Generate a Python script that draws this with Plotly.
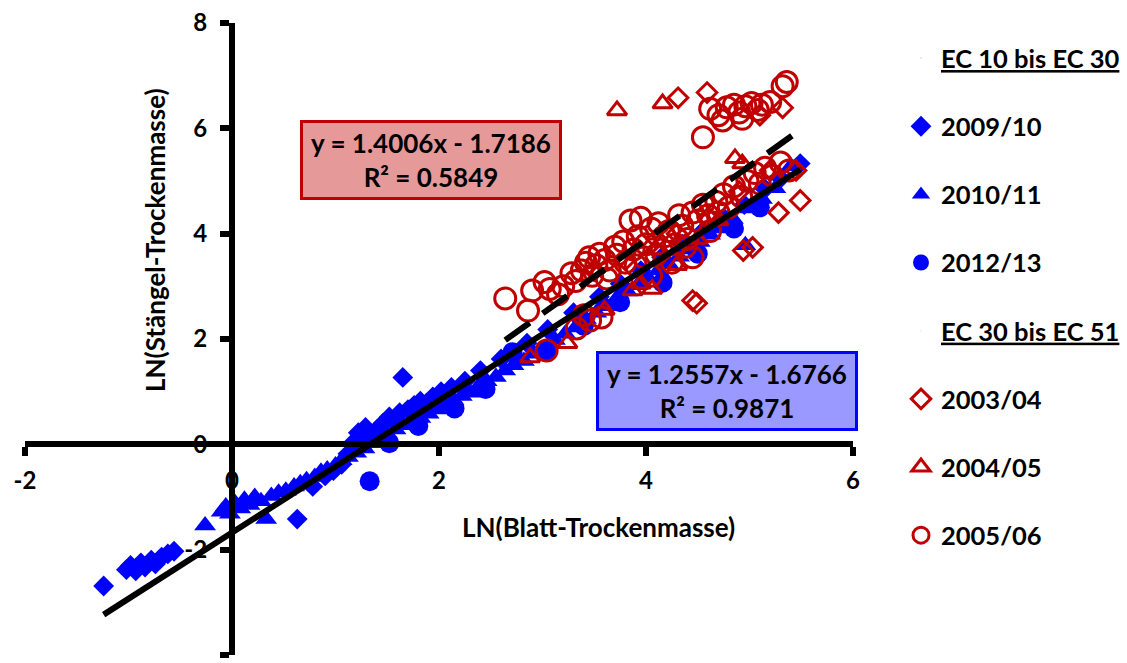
import plotly.graph_objects as go

# LN(leaf dry mass) vs LN(stem dry mass), growth stages EC 10-30 (blue) and EC 30-51 (red)

# EC 10 bis EC 30
x_2009 = [-1.24, -1.02, -0.98, -0.93, -0.88, -0.84, -0.78, -0.74, -0.68, -0.62, -0.56, 0.63,
          0.78, 0.90, 0.98, 1.06, 1.12, 1.18, 1.22, 1.29, 1.34, 1.40, 1.46, 1.52, 1.57, 1.62,
          1.65, 1.70, 1.76, 1.82, 1.88, 1.94, 2.02, 2.12, 2.25, 2.40, 2.60, 2.85, 3.05, 3.30,
          3.55, 3.75, 3.95, 4.15, 4.35, 4.55, 4.75, 4.95, 5.15, 5.30, 5.49]
y_2009 = [-2.69, -2.38, -2.30, -2.40, -2.25, -2.33, -2.20, -2.27, -2.14, -2.08, -2.03, -1.42,
          -0.80, -0.60, -0.50, -0.38, -0.18, 0.05, 0.22, 0.32, 0.10, 0.28, 0.40, 0.52, 0.45, 0.60,
          1.27, 0.66, 0.74, 0.82, 0.78, 0.90, 1.00, 1.08, 1.20, 1.40, 1.62, 1.92, 2.18, 2.50,
          2.80, 3.05, 3.30, 3.55, 3.80, 4.05, 4.30, 4.55, 4.85, 5.05, 5.33]

x_2010 = [-0.26, -0.10, -0.06, -0.02, 0.03, 0.08, 0.12, 0.17, 0.22, 0.28, 0.33, 0.38, 0.45,
          0.52, 0.60, 0.66, 0.72, 0.80, 0.86, 0.92, 1.00, 1.06, 1.12, 1.20, 1.28, 1.36, 1.44,
          1.50, 1.58, 1.66, 1.74, 1.82, 1.90, 1.98, 2.06, 2.14, 2.22, 2.30, 2.38, 2.46, 2.55,
          2.64, 2.72, 2.82, 2.92, 3.02, 3.12, 3.22, 3.32, 3.42, 3.52, 3.62, 3.72, 3.82, 3.92,
          4.02, 4.12, 4.22, 4.32, 4.42, 4.52, 4.62, 4.72, 4.84, 4.96, 5.00, 5.12, 5.25, 5.40]
y_2010 = [-1.54, -1.28, -1.18, -1.32, -1.12, -1.22, -1.05, -1.15, -1.00, -1.08, -1.42, -0.98,
          -0.92, -0.88, -0.80, -0.74, -0.68, -0.62, -0.52, -0.48, -0.40, -0.30, -0.24, -0.16,
          -0.08, 0.02, 0.10, 0.20, 0.28, 0.36, 0.42, 0.50, 0.58, 0.66, 0.74, 0.84, 0.92, 0.98,
          1.10, 1.20, 1.28, 1.40, 1.50, 1.58, 1.72, 1.82, 1.98, 2.10, 2.22, 2.38, 2.50, 2.62,
          2.78, 2.90, 3.02, 3.16, 3.30, 3.42, 3.56, 3.70, 3.84, 3.98, 4.10, 4.28, 3.78, 4.48,
          4.66, 4.86, 5.28]

x_2012 = [1.33, 1.52, 1.80, 2.15, 2.45, 2.71, 3.05, 3.40, 3.75, 4.16, 4.50, 4.85, 5.10]
y_2012 = [-0.70, 0.02, 0.35, 0.68, 1.05, 1.75, 1.78, 2.25, 2.70, 3.07, 3.62, 4.10, 4.50]

# EC 30 bis EC 51
x_2003 = [4.31, 4.59, 5.32, 5.10, 4.45, 4.49, 4.94, 5.03, 5.28, 5.49, 3.50, 3.80, 4.10, 4.30,
          4.60, 4.90, 5.20, 5.45]
y_2003 = [6.58, 6.68, 6.39, 6.25, 2.73, 2.68, 3.68, 3.74, 4.40, 4.63, 3.30, 3.50, 3.90, 4.00,
          4.30, 4.80, 5.20, 5.20]

x_2004 = [3.72, 4.16, 4.86, 4.93, 2.88, 3.24, 3.87, 4.06, 3.95, 4.30, 4.50, 4.70, 3.60, 4.10]
y_2004 = [6.34, 6.47, 5.43, 5.33, 1.65, 1.92, 2.92, 2.95, 3.05, 3.40, 3.90, 4.25, 2.55, 3.70]

x_2005 = [2.64, 2.86, 2.90, 3.02, 3.07, 3.15, 3.20, 3.28, 3.32, 3.38, 3.42, 3.45, 3.48, 3.52,
          3.55, 3.60, 3.65, 3.70, 3.72, 3.78, 3.80, 3.85, 3.88, 3.92, 3.95, 4.00, 4.05, 4.10,
          4.12, 4.18, 4.22, 4.28, 4.32, 4.35, 4.40, 4.45, 4.50, 4.55, 4.60, 4.68, 4.75, 4.80,
          4.85, 4.92, 4.98, 5.05, 5.10, 5.15, 5.22, 5.30, 5.38,
          3.04, 3.33, 3.46, 3.57, 3.40, 4.25, 4.45, 4.05,
          3.62, 3.90, 4.15, 4.38, 4.62, 3.98, 4.70,
          4.55, 4.62, 4.70, 4.74, 4.78, 4.85, 4.90, 4.96, 5.02, 5.08, 5.12, 5.20, 4.93, 5.32, 5.36]
y_2005 = [2.77, 2.54, 2.92, 3.08, 2.95, 2.85, 3.00, 3.25, 3.10, 3.30, 3.45, 3.55, 3.20, 3.40,
          3.62, 3.50, 3.30, 3.75, 3.60, 3.85, 3.45, 4.25, 3.70, 3.95, 4.30, 3.80, 4.10, 3.60,
          4.20, 3.95, 4.05, 3.80, 4.35, 4.15, 3.90, 4.40, 4.25, 4.55, 4.35, 4.60, 4.75, 4.50,
          4.90, 4.70, 5.00, 5.15, 4.95, 5.25, 5.10, 5.35, 5.20,
          1.78, 2.20, 2.35, 2.41, 2.45, 3.45, 3.55, 3.20,
          3.15, 3.40, 3.70, 3.75, 4.05, 3.55, 4.40,
          5.83, 6.37, 6.25, 6.15, 6.40, 6.45, 6.30, 6.42, 6.48, 6.35, 6.45, 6.50, 6.18, 6.80, 6.88]

# Trendline coefficients as printed in the boxes
fit_ec10 = (1.2557, -1.6766, 0.9871)
fit_ec30 = (1.4006, -1.7186, 0.5849)

x_ticks = [-2, 0, 2, 4, 6]
y_ticks = [-4, -2, 0, 2, 4, 6, 8]

BLUE = "#0000FF"
RED = "#C00000"
FONT = "Lato"


def bold(s):
    return f"<b>{s}</b>"


fig = go.Figure()


def header(name, group):
    fig.add_trace(go.Scatter(x=[None], y=[None], mode="markers", name=name,
                             legendgroup=group, marker=dict(opacity=0, size=1),
                             hoverinfo="skip"))


header(bold("<u>EC 10 bis EC 30</u>"), "h1")
fig.add_trace(go.Scatter(x=x_2009, y=y_2009, mode="markers", name=bold("2009/10"),
                         legendgroup="a",
                         marker=dict(symbol="diamond", color=BLUE, size=16)))
fig.add_trace(go.Scatter(x=x_2010, y=y_2010, mode="markers", name=bold("2010/11"),
                         legendgroup="b",
                         marker=dict(symbol="triangle-up", color=BLUE, size=19)))
fig.add_trace(go.Scatter(x=x_2012, y=y_2012, mode="markers", name=bold("2012/13"),
                         legendgroup="c",
                         marker=dict(symbol="circle", color=BLUE, size=20)))
header(bold("<u>EC 30 bis EC 51</u>"), "h2")
fig.add_trace(go.Scatter(x=x_2003, y=y_2003, mode="markers", name=bold("2003/04"),
                         legendgroup="d",
                         marker=dict(symbol="diamond-open", color=RED, size=15,
                                     line=dict(width=3, color=RED))))
fig.add_trace(go.Scatter(x=x_2004, y=y_2004, mode="markers", name=bold("2004/05"),
                         legendgroup="e",
                         marker=dict(symbol="triangle-up-open", color=RED, size=17,
                                     line=dict(width=3, color=RED))))
fig.add_trace(go.Scatter(x=x_2005, y=y_2005, mode="markers", name=bold("2005/06"),
                         legendgroup="f",
                         marker=dict(symbol="circle-open", color=RED, size=21,
                                     line=dict(width=3, color=RED))))

# Linear trendlines over each group's x range
blue_x = x_2009 + x_2010 + x_2012
red_x = x_2003 + x_2004 + x_2005
bx = [min(blue_x), max(blue_x)]
rx = [min(red_x), max(red_x)]
fig.add_trace(go.Scatter(x=bx, y=[fit_ec10[0] * v + fit_ec10[1] for v in bx], mode="lines",
                         line=dict(color="black", width=6), showlegend=False, hoverinfo="skip"))
fig.add_trace(go.Scatter(x=rx, y=[fit_ec30[0] * v + fit_ec30[1] for v in rx], mode="lines",
                         line=dict(color="black", width=6, dash="30px,16px"),
                         showlegend=False, hoverinfo="skip"))

axis_common = dict(showgrid=False, zeroline=False, showline=True, linecolor="black",
                   linewidth=6, ticks="outside", ticklen=9, tickwidth=6, tickcolor="black",
                   tickfont=dict(family=FONT, size=24, color="black"),
                   anchor="free")

fig.update_xaxes(range=[-2, 6], tickvals=x_ticks, ticktext=[bold(v) for v in x_ticks],
                 position=4 / 12, ticklabelstandoff=4, **axis_common)
fig.update_yaxes(range=[-4, 8], tickvals=y_ticks, ticktext=[bold(v) for v in y_ticks],
                 position=2 / 8, ticklabelstandoff=8, **axis_common)


def eq_text(fit):
    return bold(f"y = {fit[0]:.4f}x - {abs(fit[1]):.4f}<br>R² = {fit[2]:.4f}")


box_font = dict(family=FONT, size=26, color="black")
fig.add_annotation(x=1.92, y=5.39, xref="x", yref="y", text=eq_text(fit_ec30),
                   showarrow=False, font=box_font, bgcolor="#E69999", bordercolor=RED,
                   borderwidth=3, borderpad=3, width=250, height=68,
                   xanchor="center", yanchor="middle")
fig.add_annotation(x=4.78, y=1.02, xref="x", yref="y", text=eq_text(fit_ec10),
                   showarrow=False, font=box_font, bgcolor="#9999FF", bordercolor=BLUE,
                   borderwidth=3, borderpad=3, width=250, height=68,
                   xanchor="center", yanchor="middle")

# Axis titles placed in pixels relative to the plotting area
ML, MR, MT, MB = 25, 274, 23, 8
plot_w = 1127 - ML - MR
plot_h = 663 - MT - MB
title_font = dict(family=FONT, size=26, color="black")
fig.add_annotation(x=(598 - ML) / plot_w, y=(663 - MB - 527) / plot_h, xref="paper",
                   yref="paper", text=bold("LN(Blatt-Trockenmasse)"), showarrow=False,
                   font=title_font, xanchor="center", yanchor="middle")
fig.add_annotation(x=(155 - ML) / plot_w, y=(663 - MB - 240) / plot_h, xref="paper",
                   yref="paper", text=bold("LN(Stängel-Trockenmasse)"), showarrow=False,
                   font=title_font, textangle=-90, xanchor="center", yanchor="middle")

fig.update_layout(
    width=1127, height=663,
    margin=dict(l=ML, r=MR, t=MT, b=MB, autoexpand=False),
    paper_bgcolor="white", plot_bgcolor="white",
    font=dict(family=FONT, color="black"),
    legend=dict(xref="container", yref="container", x=901 / 1127, y=1 - 35 / 663,
                xanchor="left", yanchor="top", traceorder="grouped", tracegroupgap=32,
                font=dict(family=FONT, size=25.5, color="black"),
                itemsizing="trace", bgcolor="rgba(0,0,0,0)", maxheight=663),
)

fig.write_html("out.html")
